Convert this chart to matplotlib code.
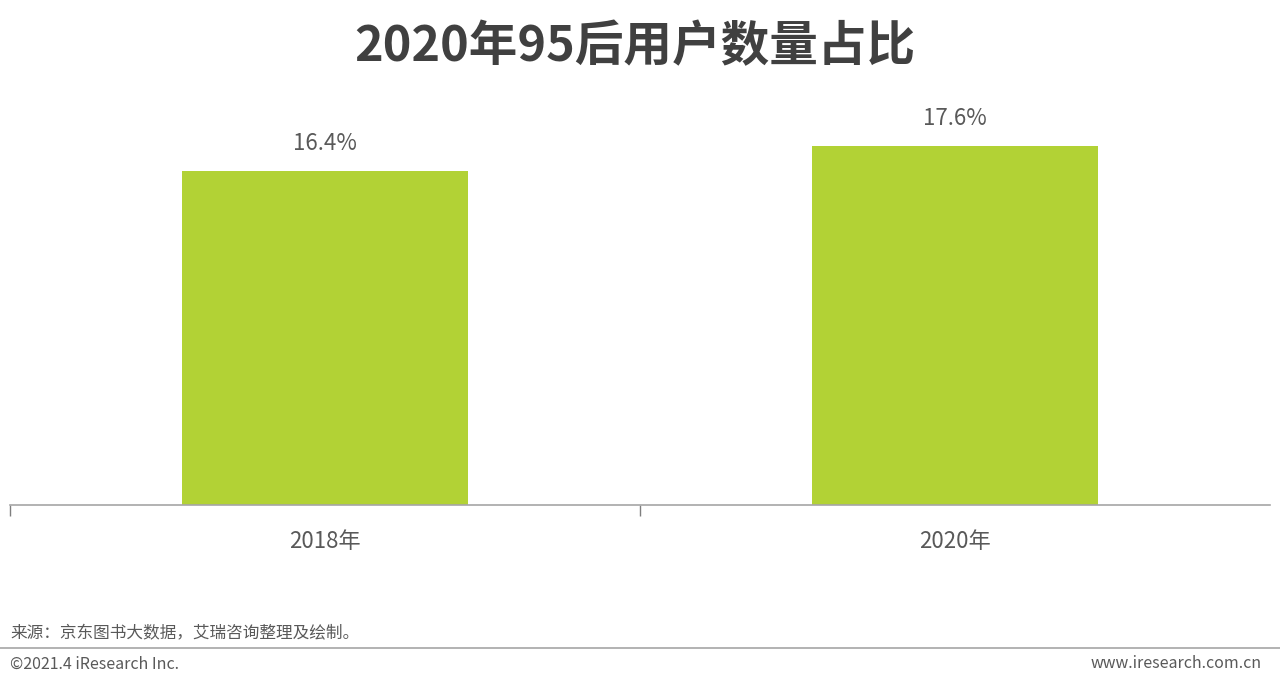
import matplotlib.pyplot as plt
import numpy as np

plt.rcParams['font.family'] = ['Noto Sans CJK SC', 'DejaVu Sans']

# 数据
categories = ['2018年', '2020年']
values = [16.4, 17.6]
labels = ['16.4%', '17.6%']

title = '2020年95后用户数量占比'
source = '来源：京东图书大数据，艾瑞咨询整理及绘制。'

fig = plt.figure(figsize=(12.8, 6.9), dpi=100)
ax = fig.add_axes([10 / 1280, 185 / 690, 1260 / 1280, 407.4 / 690])

x = np.arange(len(categories))
ax.bar(x, values, width=0.454, color='#b2d235', zorder=2)
for xi, v, lab in zip(x, values, labels):
    ax.text(xi, v + 0.8, lab, ha='center', va='bottom', fontsize=16, color='#595959')

ax.set_xlim(-0.5, 1.5)
ax.set_ylim(0, 20)
ax.set_yticks([])
for s in ['top', 'right', 'left']:
    ax.spines[s].set_visible(False)
ax.spines['bottom'].set_color('#a6a6a6')
ax.spines['bottom'].set_linewidth(1.2)

# 类别刻度在中间，分隔刻度在左边和中间
ax.set_xticks(x)
ax.set_xticklabels(categories, fontsize=16, color='#595959')
ax.tick_params(axis='x', which='major', length=0, pad=18)
ax.set_xticks([-0.5, 0.5], minor=True)
ax.tick_params(axis='x', which='minor', length=8, color='#7f7f7f', width=1, direction='out')

fig.text(0.496, 0.933, title, ha='center', va='center', fontsize=35,
         fontweight='bold', color='#404040')

fig.text(10 / 1280, 1 - 634 / 690, source, ha='left', va='center', fontsize=12, color='#595959')
fig.add_artist(plt.Line2D([0, 1], [1 - 648 / 690] * 2, color='#a6a6a6', linewidth=1.2))
fig.text(10 / 1280, 1 - 664 / 690, '©2021.4 iResearch Inc.', ha='left', va='center',
         fontsize=11.5, color='#595959')
fig.text(1262 / 1280, 1 - 664 / 690, 'www.iresearch.com.cn', ha='right', va='center',
         fontsize=11.5, color='#595959')

fig.savefig('out.png', dpi=100, facecolor='white')
